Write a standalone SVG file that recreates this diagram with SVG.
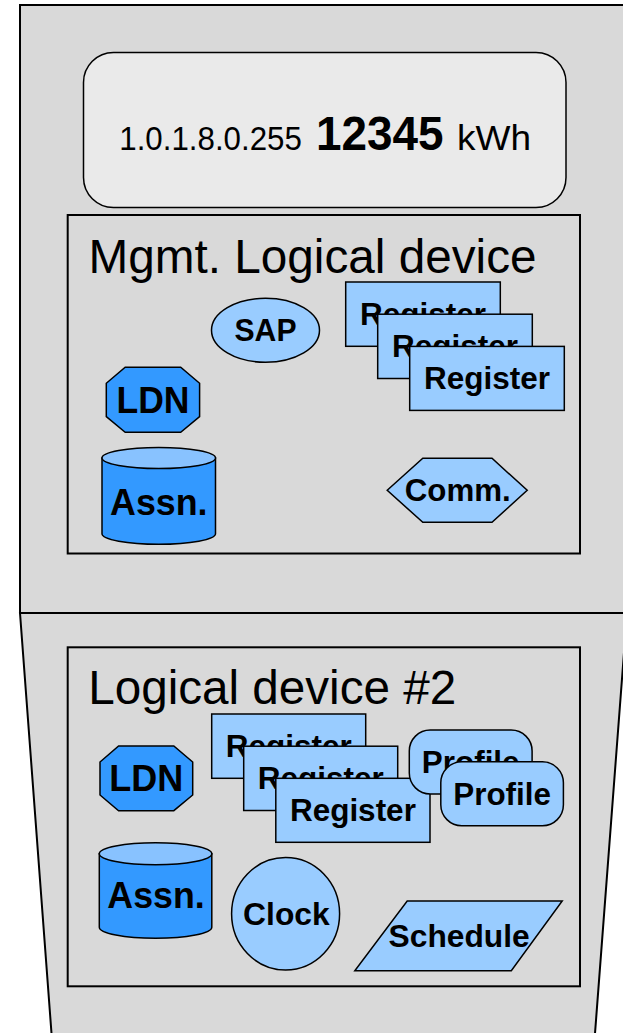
<svg xmlns="http://www.w3.org/2000/svg" width="623" height="1033" viewBox="0 0 623 1033">
<style>
.frame{fill:#D9D9D9;stroke:#000;stroke-width:2}
.box{fill:#D9D9D9;stroke:#000;stroke-width:2}
.lb{fill:#99CCFF;stroke:#000;stroke-width:1.5}
.db{fill:#3399FF;stroke:#000;stroke-width:1.5}
.top{fill:#88C2FF;stroke:#000;stroke-width:1.5}
.t{font-family:"Liberation Sans",Arial,sans-serif;fill:#000}
.title{font-size:47.5px}
.lbl{font-size:30.5px;font-weight:bold;text-anchor:middle}
.big{font-size:36px;font-weight:bold;text-anchor:middle}
</style>
<rect width="623" height="1033" fill="#FFFFFF"/>
<g id="meter-frame">
  <rect class="frame" x="20" y="5" width="610" height="608"/>
  <polygon class="frame" points="20,613 627,613 594.5,1040 52,1040"/>
</g>
<g id="display">
  <rect x="83.5" y="52.5" width="482.5" height="155" rx="30" ry="30" fill="#EAEAEA" stroke="#000" stroke-width="1.5"/>
  <text class="t" x="119.3" y="150" font-size="33" textLength="182.5" lengthAdjust="spacingAndGlyphs">1.0.1.8.0.255</text>
  <text class="t" x="316" y="150" font-size="48" font-weight="bold" textLength="127.5" lengthAdjust="spacingAndGlyphs">12345</text>
  <text class="t" x="457" y="150" font-size="35" textLength="74" lengthAdjust="spacingAndGlyphs">kWh</text>
</g>
<g id="mgmt-logical-device">
  <rect class="box" x="67.7" y="215" width="512.3" height="338.5"/>
  <text class="t title" x="88.5" y="272.7" textLength="448" lengthAdjust="spacingAndGlyphs">Mgmt. Logical device</text>
</g>
<g id="mgmt-sap">
  <ellipse class="lb" cx="265.5" cy="330.3" rx="54" ry="32"/>
  <text class="t lbl" x="265.5" y="341" textLength="62" lengthAdjust="spacingAndGlyphs">SAP</text>
</g>
<g id="mgmt-register-1">
  <rect class="lb" x="345.7" y="282" width="154.6" height="64.3"/>
  <text class="t lbl" x="423" y="324.8" textLength="126" lengthAdjust="spacingAndGlyphs">Register</text>
</g>
<g id="mgmt-register-2">
  <rect class="lb" x="377.7" y="314.2" width="154.6" height="64.3"/>
  <text class="t lbl" x="455" y="357" textLength="126" lengthAdjust="spacingAndGlyphs">Register</text>
</g>
<g id="mgmt-register-3">
  <rect class="lb" x="409.7" y="346.4" width="154.6" height="64"/>
  <text class="t lbl" x="487" y="389" textLength="126" lengthAdjust="spacingAndGlyphs">Register</text>
</g>
<g id="mgmt-ldn">
  <polygon class="db" points="125.2,367.3 180.7,367.3 199.6,383.3 199.6,416.7 180.7,432.3 125.2,432.3 106.3,416.7 106.3,383.3"/>
  <text class="t big" x="153" y="413.3" textLength="73" lengthAdjust="spacingAndGlyphs">LDN</text>
</g>
<g id="mgmt-assn">
  <path class="db" d="M102,458 L102,533.8 A56.75,10.5 0 0 0 215.5,533.8 L215.5,458 Z"/>
  <ellipse class="top" cx="158.75" cy="458" rx="56.75" ry="10.5"/>
  <text class="t big" x="158.8" y="515" textLength="97.5" lengthAdjust="spacingAndGlyphs">Assn.</text>
</g>
<g id="mgmt-comm">
  <polygon class="lb" points="387.2,490.3 422.8,458.3 492,458.3 527.2,490.3 492,522.3 422.8,522.3"/>
  <text class="t lbl" x="457.7" y="501" textLength="106" lengthAdjust="spacingAndGlyphs">Comm.</text>
</g>
<g id="logical-device-2">
  <rect class="box" x="67.7" y="647.3" width="512.3" height="339"/>
  <text class="t title" x="88.2" y="704" textLength="368" lengthAdjust="spacingAndGlyphs">Logical device #2</text>
</g>
<g id="ld2-ldn">
  <polygon class="db" points="118.6,746 173.8,746 192.7,762 192.7,795 173.8,810.7 118.6,810.7 100,795 100,762"/>
  <text class="t big" x="146.3" y="791.2" textLength="74" lengthAdjust="spacingAndGlyphs">LDN</text>
</g>
<g id="ld2-register-1">
  <rect class="lb" x="211.7" y="714" width="154" height="64.3"/>
  <text class="t lbl" x="288.7" y="756.8" textLength="126" lengthAdjust="spacingAndGlyphs">Register</text>
</g>
<g id="ld2-register-2">
  <rect class="lb" x="243.7" y="746.2" width="154" height="64.3"/>
  <text class="t lbl" x="320.7" y="789" textLength="126" lengthAdjust="spacingAndGlyphs">Register</text>
</g>
<g id="ld2-register-3">
  <rect class="lb" x="275.8" y="778.3" width="154.2" height="64"/>
  <text class="t lbl" x="352.9" y="820.5" textLength="126" lengthAdjust="spacingAndGlyphs">Register</text>
</g>
<g id="ld2-profile-1">
  <rect class="lb" x="409.3" y="730" width="122.8" height="64" rx="21" ry="21"/>
  <text class="t lbl" x="470.7" y="772.5" textLength="97.7" lengthAdjust="spacingAndGlyphs">Profile</text>
</g>
<g id="ld2-profile-2">
  <rect class="lb" x="440.8" y="761.8" width="122.6" height="64" rx="21" ry="21"/>
  <text class="t lbl" x="502.1" y="804.5" textLength="97.7" lengthAdjust="spacingAndGlyphs">Profile</text>
</g>
<g id="ld2-assn">
  <path class="db" d="M99.3,853.7 L99.3,927.3 A56.25,11 0 0 0 211.8,927.3 L211.8,853.7 Z"/>
  <ellipse class="top" cx="155.55" cy="853.7" rx="56.25" ry="11"/>
  <text class="t big" x="156" y="908.3" textLength="97.3" lengthAdjust="spacingAndGlyphs">Assn.</text>
</g>
<g id="ld2-clock">
  <ellipse class="lb" cx="285.6" cy="913.8" rx="54" ry="56.2"/>
  <text class="t lbl" x="286.4" y="925" textLength="86.6" lengthAdjust="spacingAndGlyphs">Clock</text>
</g>
<g id="ld2-schedule">
  <polygon class="lb" points="407.2,901 562.2,901 511.3,970.7 354.8,970.7"/>
  <text class="t lbl" x="459.1" y="946.7" textLength="141" lengthAdjust="spacingAndGlyphs">Schedule</text>
</g>
<g id="connectors"/>
</svg>
